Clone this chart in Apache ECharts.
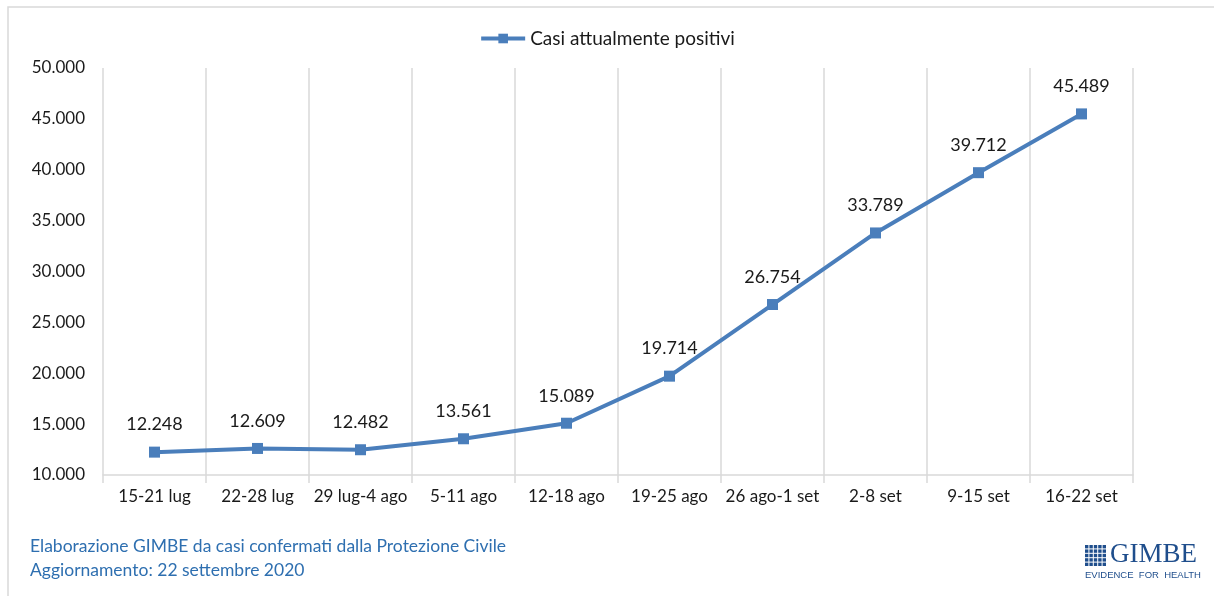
<!DOCTYPE html>
<html>
<head>
<meta charset="utf-8">
<script src="https://cdn.jsdelivr.net/npm/echarts@6/dist/echarts.min.js"></script>
<style>
  html, body { margin: 0; padding: 0; background: #fff; }
  #chart { width: 1214px; height: 596px; }
</style>
</head>
<body>
<div id="chart"></div>
<script>
// settimane (categorie asse x)
var weeks = ['15-21 lug', '22-28 lug', '29 lug-4 ago', '5-11 ago', '12-18 ago',
  '19-25 ago', '26 ago-1 set', '2-8 set', '9-15 set', '16-22 set'];
// casi attualmente positivi
var positivi = [12248, 12609, 12482, 13561, 15089, 19714, 26754, 33789, 39712, 45489];
var seriesName = 'Casi attualmente positivi';
var footerLines = ['Elaborazione GIMBE da casi confermati dalla Protezione Civile',
  'Aggiornamento: 22 settembre 2020'];

var FONT = 'Lato, "Open Sans", sans-serif';
var LINE = '#4a7ebb';

// formato italiano con punto per le migliaia
function fmt(v) {
  return String(v).replace(/\B(?=(\d{3})+(?!\d))/g, '.');
}

// logo GIMBE: griglia di quadratini
var logoCells = [];
for (var r = 0; r < 5; r++) {
  for (var c = 0; c < 5; c++) {
    logoCells.push({
      type: 'rect',
      shape: { x: 1085 + c * 4.4, y: 545 + r * 4.4, width: 3.4, height: 3.4 },
      style: { fill: '#1f4e8c' }
    });
  }
}

var chart = echarts.init(document.getElementById('chart'));
chart.setOption({
  backgroundColor: '#fff',
  animation: false,
  textStyle: { fontFamily: FONT },
  legend: {
    top: 24,
    left: 'center',
    itemWidth: 44,
    itemHeight: 12,
    itemGap: 6,
    lineStyle: { width: 4 },
    textStyle: { fontSize: 19, color: '#1a1a1a', fontFamily: FONT },
    data: [seriesName]
  },
  grid: { left: 103, right: 81, top: 68, bottom: 121, containLabel: false },
  xAxis: {
    type: 'category',
    data: weeks,
    boundaryGap: true,
    axisLine: { lineStyle: { color: '#d9d9d9', width: 1.5 } },
    axisTick: { show: true, length: 8, lineStyle: { color: '#d9d9d9', width: 1.5 } },
    splitLine: { show: true, lineStyle: { color: '#d9d9d9', width: 1.5 } },
    axisLabel: { fontSize: 17, color: '#1a1a1a', margin: 13, fontFamily: FONT, interval: 0 }
  },
  yAxis: {
    type: 'value',
    min: 10000,
    max: 50000,
    interval: 5000,
    axisLine: { show: false },
    axisTick: { show: false },
    splitLine: { show: false },
    axisLabel: { fontSize: 17, color: '#1a1a1a', margin: 18, fontFamily: FONT, formatter: fmt }
  },
  series: [{
    name: seriesName,
    type: 'line',
    data: positivi,
    symbol: 'rect',
    symbolSize: 11,
    lineStyle: { color: LINE, width: 4 },
    itemStyle: { color: LINE },
    label: {
      show: true,
      position: 'top',
      distance: 13,
      fontSize: 18,
      color: '#1a1a1a',
      fontFamily: FONT,
      formatter: function (p) { return fmt(p.value); }
    }
  }],
  graphic: [
    {
      type: 'polyline',
      shape: { points: [[8, 596], [8, 7], [1214, 7]] },
      style: { stroke: '#d9d9d9', lineWidth: 1.5, fill: null }
    },
    {
      type: 'text', left: 30, top: 537,
      style: { text: footerLines[0], fontSize: 17.5, fill: '#2e6fb0', fontFamily: FONT }
    },
    {
      type: 'text', left: 30, top: 561,
      style: { text: footerLines[1], fontSize: 17.5, fill: '#2e6fb0', fontFamily: FONT }
    },
    {
      type: 'group',
      children: logoCells
    },
    {
      type: 'text', left: 1110, top: 541,
      style: { text: 'GIMBE', fontSize: 27, fill: '#1f4e8c', fontFamily: '"Liberation Serif", "DejaVu Serif", serif' }
    },
    {
      type: 'text', left: 1085, top: 570,
      style: { text: 'EVIDENCE  FOR  HEALTH', fontSize: 9.5, fill: '#1f4e8c', fontFamily: '"Liberation Sans", sans-serif' }
    }
  ]
});
</script>
</body>
</html>
